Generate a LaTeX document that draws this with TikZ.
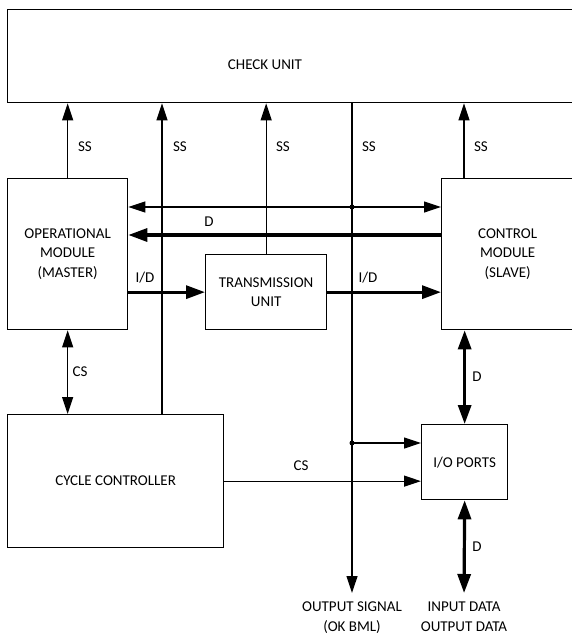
\documentclass[tikz,border=0pt]{standalone}
\usepackage{fontspec}
\setmainfont{Carlito}
\usetikzlibrary{arrows.meta, positioning}

\begin{document}
\begin{tikzpicture}[x=1pt,y=-1pt,font=\fontsize{15}{19.5}\selectfont,
  block/.style={draw,line width=1.3pt,inner sep=0pt,anchor=north west,align=center},
  tag/.style={inner sep=0pt},
  sig/.style={line width=1.2pt,-{Triangle[length=17pt,width=11pt]}},
  sig both/.style={line width=1.2pt,{Triangle[length=17pt,width=11pt]}-{Triangle[length=17pt,width=11pt]}},
  bus/.style={line width=3.2pt,-{Triangle[length=19pt,width=13pt]}},
  bus both/.style={line width=3.2pt,{Triangle[length=19pt,width=13pt]}-{Triangle[length=19pt,width=13pt]}}]
  \useasboundingbox (0,0) rectangle (571,637);
  \node[block,minimum width=583pt,minimum height=93pt] (check) at (7,9) {};
  \node[tag] (checktxt) at (265,65) {CHECK UNIT};
  \node[block,minimum width=120pt,minimum height=151pt] (op) at (7,178) {OPERATIONAL\\MODULE\\(MASTER)};
  \node[block,minimum width=121pt,minimum height=75pt] (trans) at (205,254) {TRANSMISSION\\UNIT};
  \node[block,minimum width=132pt,minimum height=151pt] (ctrl) at (441,178) {CONTROL\\MODULE\\(SLAVE)};
  \node[block,minimum width=216pt,minimum height=133pt] (cyc) at (7,414) {CYCLE CONTROLLER};
  \node[block,minimum width=86pt,minimum height=75pt] (io) at (421,424) {I/O PORTS};
  \node[tag,anchor=north,align=center] (out) at (352,602) {OUTPUT SIGNAL\\(OK BML)};
  \node[tag,anchor=north,align=center] (data) at (464,602) {INPUT DATA\\OUTPUT DATA};
  \coordinate (bA) at (162,0);
  \coordinate (bB) at (352,0);
  \coordinate (bC) at (464,0);
  \coordinate (dA) at (0,207);
  \coordinate (dB) at (0,235);
  \coordinate (tap) at (352,443);
  % status signals up to the check unit
  \draw[sig] (op.north) -- (op.north |- check.south);
  \draw[sig] (bA |- cyc.north) -- (bA |- check.south);
  \draw[sig] (trans.north) -- (trans.north |- check.south);
  \draw[sig,shorten >=9pt] (bB |- check.south) -- (bB |- out.north);
  \draw[sig] (bC |- ctrl.north) -- (bC |- check.south);
  \foreach \n/\x in {ss1/85, ss2/180, ss3/283, ss4/369, ss5/481} {\node[tag] (\n) at (\x,147) {SS};}
  % data paths
  \draw[sig both] (op.east |- dA) -- (ctrl.west |- dA);
  \fill (bB |- dA) circle (2.5pt);
  \draw[bus] (ctrl.west |- dB) -- (op.east |- dB);
  \draw[bus] (op.east |- trans.west) -- (trans.west);
  \draw[bus] (trans.east) -- (ctrl.west |- trans.east);
  \draw[sig both] (op.south) -- (op.south |- cyc.north);
  \draw[sig] (tap) -- (tap -| io.west);
  \fill (tap) circle (2.5pt);
  \draw[sig] (cyc.east) -- (cyc.east -| io.west);
  \draw[bus both] (io.north) -- (io.north |- ctrl.south);
  \draw[bus both,shorten >=9pt] (io.south) -- (data.north);
  \node[tag] (dtop) at (209,222) {D};
  \node[tag] (id1) at (145,278) {I/D};
  \node[tag] (id2) at (368,278) {I/D};
  \node[tag] (cs1) at (80,372) {CS};
  \node[tag] (d2) at (477,377) {D};
  \node[tag] (cs2) at (301,466) {CS};
  \node[tag] (d3) at (477,547) {D};
\end{tikzpicture}
\end{document}
